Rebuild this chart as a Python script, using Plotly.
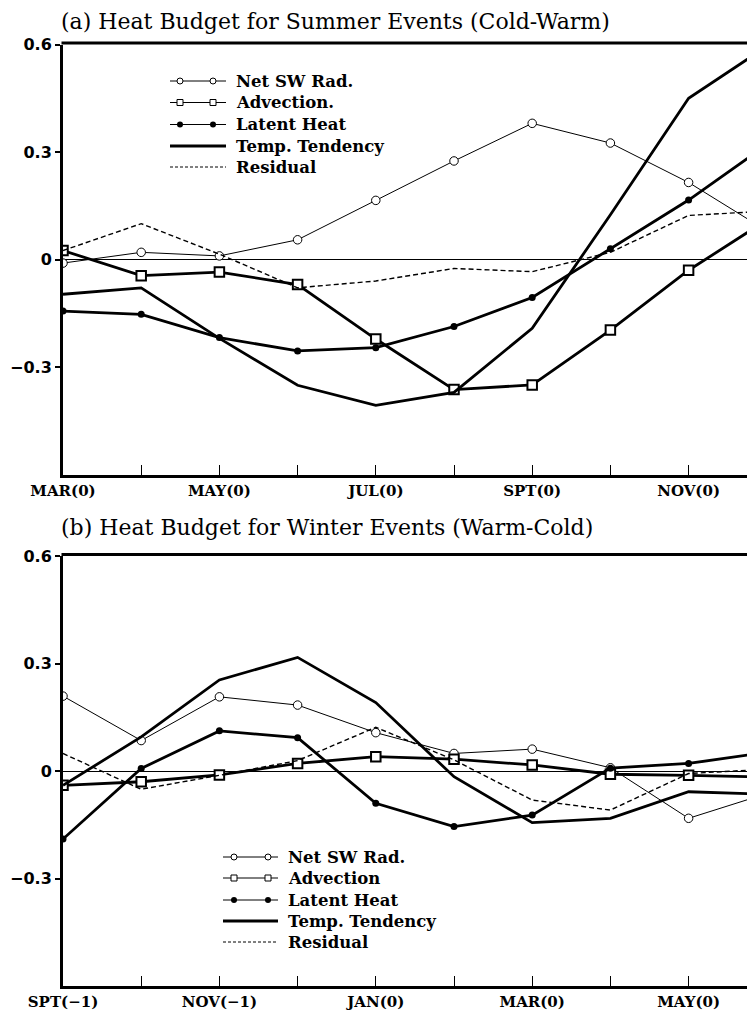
import plotly.graph_objects as go

# ---------------- data ----------------
months_a = ["MAR(0)", "APR", "MAY(0)", "JUN", "JUL(0)", "AUG", "SPT(0)", "OCT", "NOV(0)", "DEC"]
ticklab_a = ["MAR(0)", "", "MAY(0)", "", "JUL(0)", "", "SPT(0)", "", "NOV(0)", ""]
sw_a = [-0.01, 0.02, 0.01, 0.055, 0.165, 0.275, 0.38, 0.325, 0.215, 0.08]
adv_a = [0.025, -0.045, -0.035, -0.07, -0.222, -0.363, -0.35, -0.197, -0.03, 0.11]
lh_a = [-0.144, -0.153, -0.218, -0.255, -0.246, -0.187, -0.106, 0.03, 0.166, 0.32]
tt_a = [-0.097, -0.079, -0.22, -0.351, -0.407, -0.371, -0.192, 0.125, 0.45, 0.595]
res_a = [0.025, 0.1, 0.015, -0.079, -0.06, -0.025, -0.034, 0.02, 0.123, 0.135]

months_b = ["SPT(-1)", "OCT", "NOV(-1)", "DEC", "JAN(0)", "FEB", "MAR(0)", "APR", "MAY(0)", "JUN"]
ticklab_b = ["SPT(\u22121)", "", "NOV(\u22121)", "", "JAN(0)", "", "MAR(0)", "", "MAY(0)", ""]
sw_b = [0.209, 0.085, 0.207, 0.184, 0.107, 0.049, 0.061, 0.009, -0.132, -0.063]
adv_b = [-0.04, -0.03, -0.011, 0.021, 0.04, 0.033, 0.017, -0.009, -0.012, -0.017]
lh_b = [-0.19, 0.007, 0.112, 0.093, -0.09, -0.155, -0.123, 0.008, 0.021, 0.052]
tt_b = [-0.04, 0.095, 0.254, 0.317, 0.191, -0.016, -0.144, -0.132, -0.058, -0.065]
res_b = [0.049, -0.051, -0.012, 0.029, 0.122, 0.031, -0.081, -0.109, -0.007, 0.005]

ytickvals = [-0.3, 0, 0.3, 0.6]
yticktext = ["\u22120.3", "0", "0.3", "0.6"]

title_a = "(a) Heat Budget for Summer Events (Cold-Warm)"
title_b = "(b) Heat Budget for Winter Events (Warm-Cold)"
legend_a = ["Net SW Rad.", "Advection.", "Latent Heat", "Temp. Tendency", "Residual"]
legend_b = ["Net SW Rad.", "Advection", "Latent Heat", "Temp. Tendency", "Residual"]

# ---------------- geometry ----------------
# the page body has an 8px margin; positions below are page pixels shifted by it
OFF = 8
W, H = 755 - OFF, 1012 - OFF
def px(v):  # page pixel -> figure pixel
    return v - OFF

SERIF = "DejaVu Serif"
STY = [
    dict(line=dict(color="black", width=1),
         marker=dict(symbol="circle", size=8.5, color="white", line=dict(color="black", width=1)), mode="lines+markers"),
    dict(line=dict(color="black", width=2.8),
         marker=dict(symbol="square", size=9.5, color="white", line=dict(color="black", width=2)), mode="lines+markers"),
    dict(line=dict(color="black", width=2.8),
         marker=dict(symbol="circle", size=7, color="black"), mode="lines+markers"),
    dict(line=dict(color="black", width=2.8), mode="lines"),
    dict(line=dict(color="black", width=1.4, dash="5px,3px"), mode="lines"),
]
LEG_MARK = [
    dict(symbol="circle", size=6, color="white", line=dict(color="black", width=1)),
    dict(symbol="square", size=6, color="white", line=dict(color="black", width=1)),
    dict(symbol="circle", size=6, color="black"),
]
LEG_LINE = [dict(color="black", width=1), dict(color="black", width=1), dict(color="black", width=1),
            dict(color="black", width=3), dict(color="black", width=1, dash="3px,2px")]

fig = go.Figure()

def add_legend(labels, lx0, lx1, m1, m2, tx, rows):
    for i, (lab, ry) in enumerate(zip(labels, rows)):
        fig.add_trace(go.Scatter(x=[px(lx0), px(lx1)], y=[px(ry), px(ry)], xaxis="x3", yaxis="y3", mode="lines",
                                 line=LEG_LINE[i], showlegend=False, hoverinfo="skip", cliponaxis=False))
        if i < 3:
            fig.add_trace(go.Scatter(x=[px(m1), px(m2)], y=[px(ry), px(ry)], xaxis="x3", yaxis="y3", mode="markers",
                                     marker=LEG_MARK[i], showlegend=False, hoverinfo="skip", cliponaxis=False))
        fig.add_annotation(x=px(tx), y=px(ry), xref="x3", yref="y3", text=lab, showarrow=False,
                           xanchor="left", yanchor="middle",
                           font=dict(family=SERIF, size=16.5, color="black", weight="bold"))

def add_panel(xa, ya, series):
    for s, st in zip(series, STY):
        fig.add_trace(go.Scatter(x=list(range(len(s))), y=s, xaxis=xa, yaxis=ya,
                                 showlegend=False, hoverinfo="skip", **st))

add_panel("x", "y", [sw_a, adv_a, lh_a, tt_a, res_a])
add_panel("x2", "y2", [sw_b, adv_b, lh_b, tt_b, res_b])

add_legend(legend_a, 170, 226, 180, 213, 234, [81, 102.5, 124.5, 146, 167])
add_legend(legend_b, 223, 278, 234, 268, 286, [857, 878, 900, 921, 942])

# ---------------- layout ----------------
x0 = px(63) / W
def ydom(top, bot):
    return [(H - px(bot)) / H, (H - px(top)) / H]

dom_a = ydom(44.5, 474.5)
dom_b = ydom(556, 986)
XMAX = (W - px(63)) / 78.2

def xax(ticktext, anchor):
    return dict(domain=[x0, 1], range=[0, XMAX], anchor=anchor, automargin=False,
                showline=True, linewidth=3, linecolor="black",
                tickvals=list(range(len(ticktext))), ticktext=ticktext,
                ticks="inside", ticklen=10, tickwidth=1, tickcolor="black",
                tickfont=dict(family=SERIF, size=15, color="black", weight="bold"),
                showgrid=False, zeroline=False, fixedrange=True)

def yax(dom, anchor):
    return dict(domain=dom, range=[-0.6, 0.6], anchor=anchor, automargin=False,
                showline=True, linewidth=3, linecolor="black",
                tickvals=ytickvals, ticktext=yticktext,
                ticks="outside", ticklen=5, tickwidth=2, tickcolor="black",
                tickfont=dict(family="DejaVu Sans", size=16, color="black", weight="bold"),
                showgrid=False, zeroline=True, zerolinewidth=1, zerolinecolor="black",
                fixedrange=True)

fig.update_layout(
    template="none",
    width=W, height=H,
    margin=dict(l=0, r=0, t=0, b=0, pad=0),
    paper_bgcolor="white", plot_bgcolor="rgba(0,0,0,0)",
    showlegend=False,
    xaxis=xax(ticklab_a, "y"), yaxis=yax(dom_a, "x"),
    xaxis2=xax(ticklab_b, "y2"), yaxis2=yax(dom_b, "x2"),
    xaxis3=dict(domain=[0, 1], range=[0, W], visible=False, anchor="y3", fixedrange=True, automargin=False),
    yaxis3=dict(domain=[0, 1], range=[H, 0], visible=False, anchor="x3", fixedrange=True, automargin=False),
)

# top borders
for dom in (dom_a, dom_b):
    fig.add_shape(type="line", xref="paper", yref="paper", x0=x0 - 1.5 / W, x1=1,
                  y0=dom[1] + 1.5 / H, y1=dom[1] + 1.5 / H, line=dict(color="black", width=3))

# titles (top-anchored so the first one stays inside the figure)
for txt, ty in ((title_a, 8), (title_b, 514)):
    fig.add_annotation(x=px(60), y=px(ty), xref="x3", yref="y3", text=txt, showarrow=False,
                       xanchor="left", yanchor="top", borderpad=0,
                       font=dict(family=SERIF, size=22, color="black"))

fig.write_html("out.html")
